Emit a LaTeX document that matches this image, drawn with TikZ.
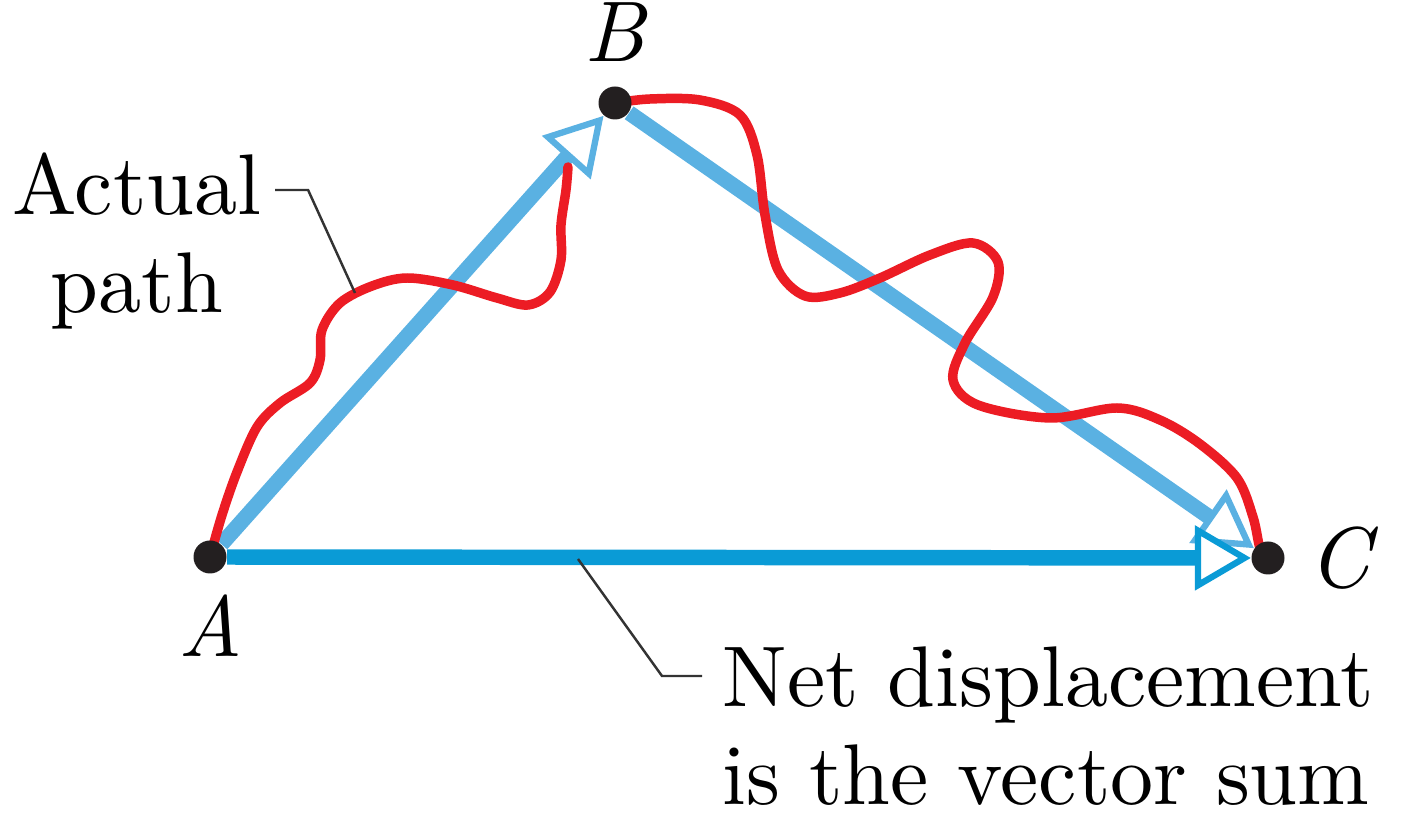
\documentclass[tikz,border=0pt]{standalone}
\usepackage{fontspec}
\setmainfont{lmroman10-regular.otf}[ItalicFont=lmroman10-italic.otf]
\usepackage{xcolor}
\usetikzlibrary{positioning, arrows.meta, backgrounds}

\definecolor{vecblue}{HTML}{5AB1E2}
\definecolor{netblue}{HTML}{0A9BD6}
\definecolor{pathred}{HTML}{EC1C24}
\definecolor{dotgray}{HTML}{231F20}

\begin{document}
\begin{tikzpicture}[
  x=0.1mm, y=-0.1mm,
  dot/.style={circle, fill=dotgray, inner sep=0pt, minimum size=3.3mm},
  ptname/.style={inner sep=0pt, font=\fontsize{24.5}{28}\selectfont\itshape},
  lbl/.style={inner sep=0pt, font=\fontsize{24.5}{28}\selectfont},
  vec/.style={line width=4.4pt, -{Triangle[open, fill=white, length=5.6mm, width=6.4mm, line width=1.8pt]}},
  actualpath/.style={pathred, line width=2.7pt, line cap=round, line join=round},
  leader/.style={line width=0.7pt, black!80}
]
\useasboundingbox (0,0) rectangle (1401,814);

\node[dot] (A) at (210,557) {};
\node[dot] (B) at (615,103) {};
\node[dot] (C) at (1268,558) {};

\node[ptname, below=2mm of A] (Aname) {A};
\node[ptname, above=2.4mm of B] (Bname) {B};
\node[ptname, right=2.3mm of C] (Cname) {C};

\coordinate (redend) at (568,167);

\begin{scope}[on background layer]
\draw[vec, vecblue] (B) -- (C);
\draw[vec, vecblue] (A) -- (B);
\draw[vec, netblue] (A) -- (C);

% actual path, A to B and B to C
\draw[actualpath] plot[smooth, tension=0.55] coordinates {(A.center) (222,515) (237,472) (257,427) (280,403) (310,383) (320,360) (322,330) (340,303) (372,286) (407,278) (453,285) (497,298) (528,305) (550,292) (561,260) (561,225) (566,190) (redend)};
\draw[actualpath] plot[smooth, tension=0.55] coordinates {(B.center) (650,99) (700,100) (740,115) (757,155) (765,215) (778,270) (805,296) (840,293) (880,278) (930,255) (973,243) (998,262) (993,297) (965,343) (953,380) (978,405) (1050,418) (1117,408) (1160,420) (1200,444) (1237,478) (1253,517) (1260,548) (C.center)};
\end{scope}

\node[lbl, align=center, anchor=north] (actual) at (137,152) {Actual\\path};
\coordinate (onpath) at (355,293);
\draw[leader] ([xshift=1.3mm, yshift=-3.8mm]actual.north east) -- ++(3.3mm,0) -- (onpath);

\node[lbl, align=left, anchor=north west] (net) at (722,646) {Net displacement\\is the vector sum};
\coordinate (onvec) at (578,559);
\draw[leader] (onvec) -- (662,676) -- ([xshift=-2mm, yshift=-3mm]net.north west);
\end{tikzpicture}
\end{document}
